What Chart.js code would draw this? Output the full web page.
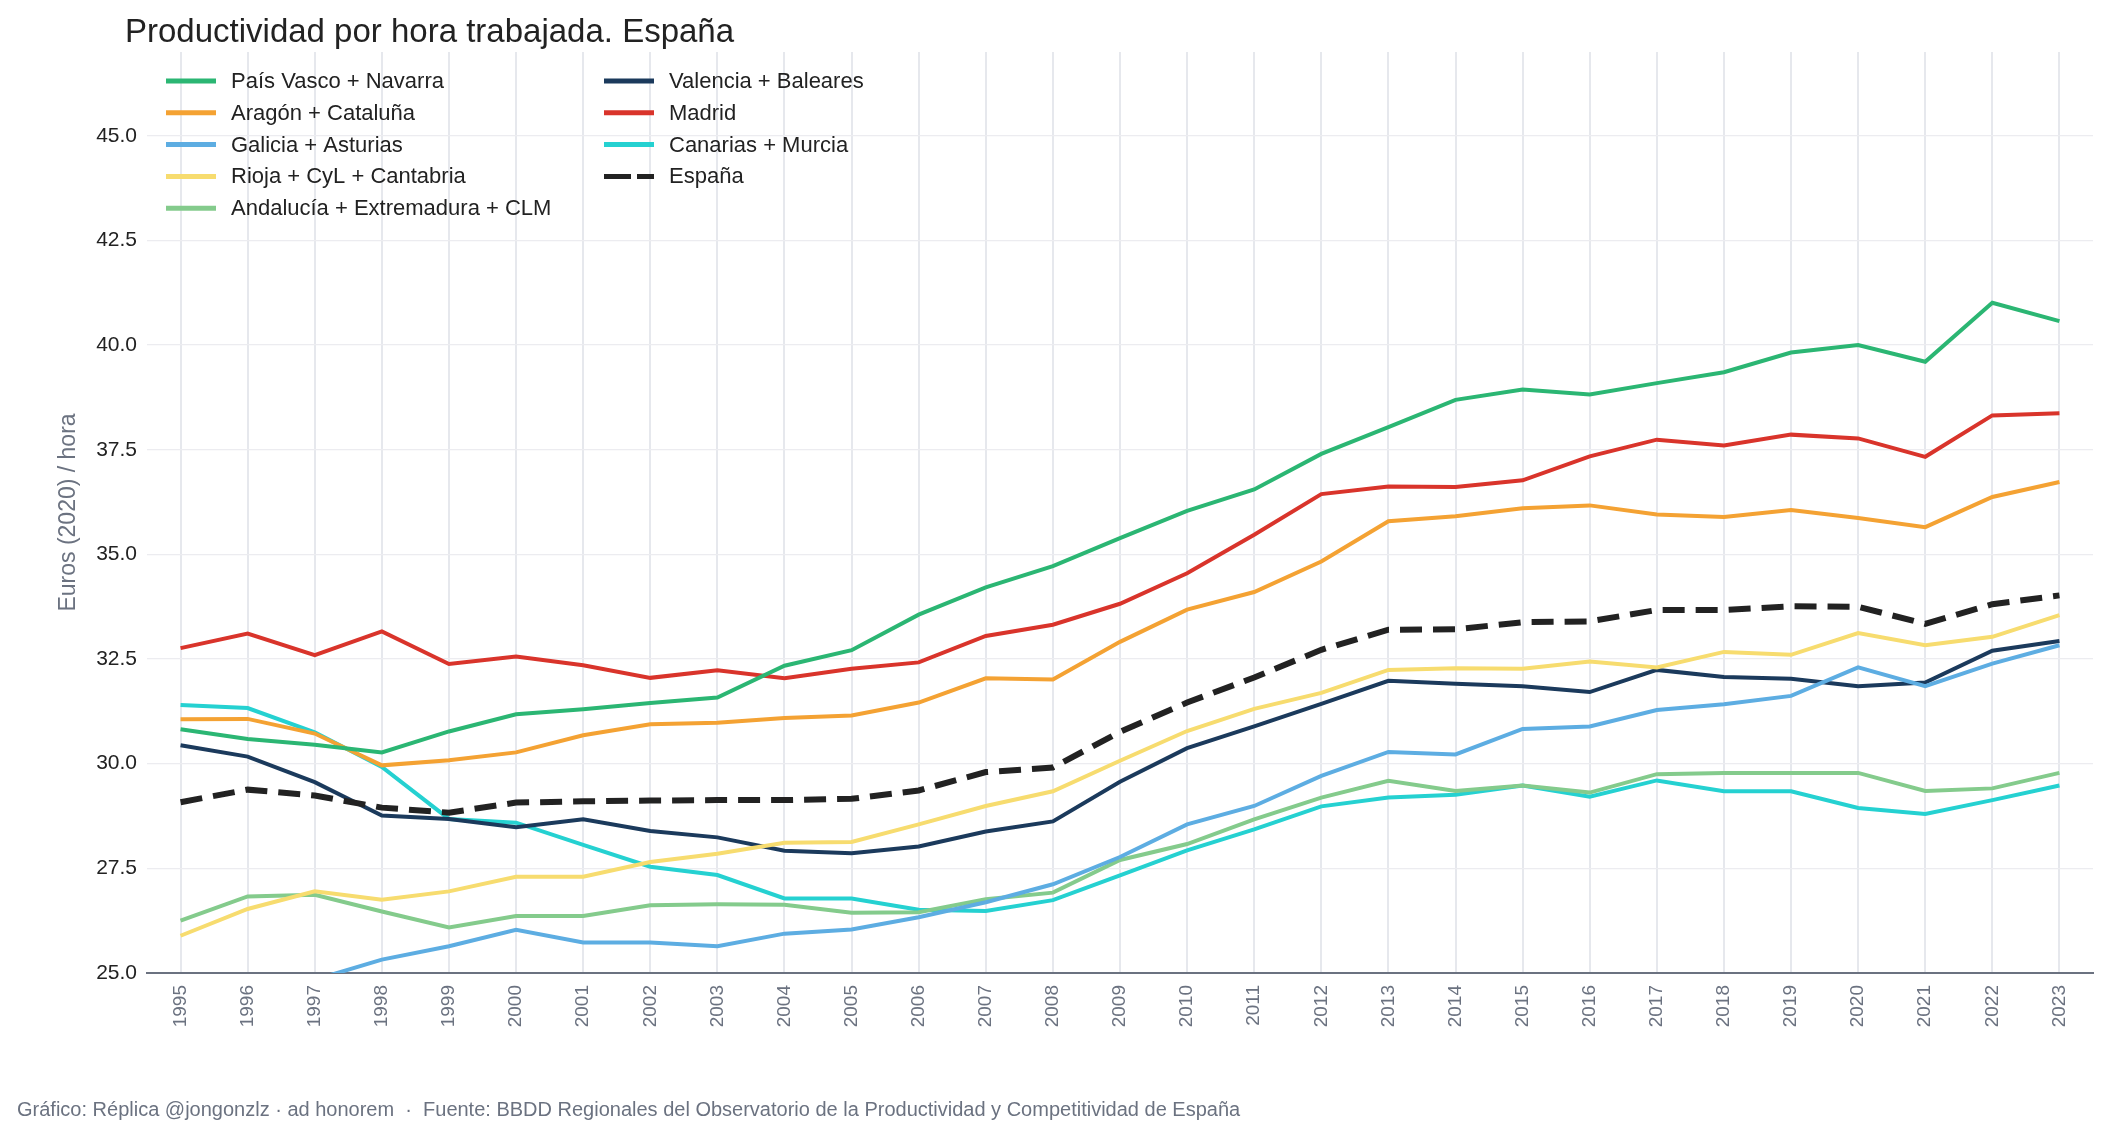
<!DOCTYPE html>
<html lang="es">
<head>
<meta charset="utf-8">
<title>Productividad por hora trabajada. España</title>
<script src="https://cdn.jsdelivr.net/npm/chart.js@4.4.1/dist/chart.umd.min.js"></script>
<style>
  html, body { margin: 0; padding: 0; background: #fff; }
  #wrap { position: relative; width: 2109px; height: 1140px; }
  #titulo {
    position: absolute; left: 125px; top: 14px; margin: 0;
    font: 400 33px/33px 'Liberation Sans', Arial, sans-serif; color: #222;
  }
  canvas { display: block; }
</style>
</head>
<body>
<div id="wrap">
  <canvas id="chart" width="2109" height="1140"></canvas>
  <h1 id="titulo">Productividad por hora trabajada. España</h1>
</div>
<script>
// ── Datos (euros de 2020 por hora trabajada) ─────────────────────
const years = ['1995', '1996', '1997', '1998', '1999', '2000', '2001', '2002', '2003', '2004',
    '2005', '2006', '2007', '2008', '2009', '2010', '2011', '2012', '2013', '2014',
    '2015', '2016', '2017', '2018', '2019', '2020', '2021', '2022', '2023'];

const paisVasco = [30.82, 30.59, 30.45, 30.27, 30.77, 31.18, 31.30, 31.45, 31.58, 32.34,
    32.71, 33.56, 34.21, 34.72, 35.39, 36.04, 36.55, 37.40, 38.04, 38.69,
    38.94, 38.82, 39.09, 39.35, 39.82, 40.00, 39.60, 41.01, 40.57];
const aragon = [31.06, 31.07, 30.72, 29.96, 30.08, 30.27, 30.68, 30.94, 30.98, 31.09,
    31.15, 31.46, 32.04, 32.01, 32.91, 33.68, 34.10, 34.83, 35.79, 35.91,
    36.10, 36.17, 35.95, 35.89, 36.06, 35.87, 35.65, 36.37, 36.73];
const galicia = [24.30, 24.60, 24.84, 25.32, 25.64, 26.03, 25.73, 25.73, 25.64, 25.94,
    26.04, 26.33, 26.69, 27.12, 27.77, 28.55, 28.99, 29.71, 30.28, 30.22,
    30.83, 30.89, 31.28, 31.42, 31.62, 32.30, 31.85, 32.39, 32.83];
const rioja = [25.89, 26.53, 26.95, 26.75, 26.95, 27.30, 27.30, 27.65, 27.85, 28.11,
    28.13, 28.55, 28.99, 29.34, 30.07, 30.78, 31.31, 31.69, 32.24, 32.28,
    32.27, 32.44, 32.30, 32.67, 32.60, 33.12, 32.83, 33.03, 33.55];
const andalucia = [26.25, 26.83, 26.87, 26.47, 26.09, 26.36, 26.36, 26.62, 26.64, 26.63,
    26.44, 26.45, 26.76, 26.92, 27.70, 28.08, 28.67, 29.19, 29.59, 29.35,
    29.48, 29.31, 29.75, 29.78, 29.78, 29.78, 29.35, 29.41, 29.78];
const valencia = [30.44, 30.17, 29.56, 28.76, 28.68, 28.48, 28.67, 28.39, 28.24, 27.92,
    27.86, 28.02, 28.38, 28.62, 29.57, 30.37, 30.89, 31.43, 31.98, 31.91,
    31.85, 31.71, 32.24, 32.07, 32.03, 31.85, 31.94, 32.70, 32.93];
const madrid = [32.76, 33.11, 32.59, 33.16, 32.38, 32.56, 32.35, 32.05, 32.23, 32.04,
    32.27, 32.42, 33.05, 33.32, 33.82, 34.55, 35.47, 36.44, 36.62, 36.61,
    36.77, 37.34, 37.74, 37.60, 37.86, 37.77, 37.33, 38.32, 38.37];
const canarias = [31.40, 31.33, 30.75, 29.92, 28.68, 28.59, 28.06, 27.54, 27.34, 26.78,
    26.78, 26.51, 26.48, 26.74, 27.33, 27.93, 28.43, 28.98, 29.19, 29.26,
    29.48, 29.21, 29.60, 29.34, 29.34, 28.94, 28.80, 29.13, 29.48];
const espana = [29.08, 29.38, 29.24, 28.95, 28.83, 29.07, 29.10, 29.12, 29.13, 29.13,
    29.16, 29.36, 29.80, 29.91, 30.76, 31.46, 32.06, 32.72, 33.20, 33.21,
    33.38, 33.40, 33.67, 33.67, 33.76, 33.75, 33.34, 33.81, 34.02];

const yTicks = [25, 27.5, 30, 32.5, 35, 37.5, 40, 42.5, 45];

const FUENTE = 'Gráfico: Réplica @jongonzlz · ad honorem  ·  Fuente: BBDD Regionales del Observatorio de la Productividad y Competitividad de España';

// ── Estilo ───────────────────────────────────────────────────────
const FONT = "'Liberation Sans', Arial, sans-serif";
Chart.defaults.font.family = FONT;

function serie(label, data, color, extra) {
    return Object.assign({
        label, data,
        borderColor: color,
        backgroundColor: color,
        borderWidth: 4,
        pointRadius: 0,
        pointHoverRadius: 0,
        tension: 0,
        fill: false,
    }, extra || {});
}

// Leyenda en dos columnas dentro del área del gráfico
const leyendaDosColumnas = {
    id: 'leyendaDosColumnas',
    afterDraw(chart) {
        const ctx = chart.ctx;
        const columnas = [{ x: 166, filas: 5 }, { x: 604, filas: 4 }];
        const y0 = 81, paso = 31.8, largo = 50, hueco = 15;
        let i = 0;
        ctx.save();
        ctx.font = '22px ' + FONT;
        ctx.textBaseline = 'middle';
        ctx.textAlign = 'left';
        ctx.fillStyle = '#222222';
        for (const col of columnas) {
            for (let f = 0; f < col.filas; f++, i++) {
                const ds = chart.data.datasets[i];
                if (!ds) break;
                const y = y0 + f * paso;
                ctx.beginPath();
                ctx.strokeStyle = ds.borderColor;
                ctx.lineWidth = 5;
                ctx.setLineDash(ds.borderDash ? [27, 6] : []);
                ctx.moveTo(col.x, y);
                ctx.lineTo(col.x + largo, y);
                ctx.stroke();
                ctx.setLineDash([]);
                ctx.fillText(ds.label, col.x + largo + hueco, y + 1);
            }
        }
        ctx.restore();
    }
};

new Chart(document.getElementById('chart'), {
    type: 'line',
    data: {
        labels: years,
        datasets: [
            serie('País Vasco + Navarra', paisVasco, '#2bb673'),
            serie('Aragón + Cataluña', aragon, '#f4a233'),
            serie('Galicia + Asturias', galicia, '#5dade2'),
            serie('Rioja + CyL + Cantabria', rioja, '#f7dc6f'),
            serie('Andalucía + Extremadura + CLM', andalucia, '#84cb8c'),
            serie('Valencia + Baleares', valencia, '#1b3a5c'),
            serie('Madrid', madrid, '#d9342b'),
            serie('Canarias + Murcia', canarias, '#25d1d1'),
            serie('España', espana, '#222222', { borderWidth: 6, borderDash: [22, 11], order: -1 }),
        ],
    },
    options: {
        responsive: false,
        devicePixelRatio: 1,
        animation: false,
        layout: { padding: { top: 52, left: 17, right: 16, bottom: 0 } },
        plugins: {
            legend: { display: false },
            tooltip: { enabled: false },
            title: { display: false },
            subtitle: {
                display: true,
                position: 'bottom',
                align: 'start',
                text: FUENTE,
                color: '#6b7280',
                font: { size: 20, weight: 'normal' },
                padding: { top: 25, bottom: 18 },
            },
        },
        scales: {
            x: {
                offset: true,
                grid: { color: '#e6e8ed', lineWidth: 2, drawTicks: false, offset: false },
                border: { display: true, color: '#6b7280', width: 2 },
                ticks: {
                    color: '#6b7280',
                    font: { size: 19 },
                    minRotation: 90,
                    maxRotation: 90,
                    autoSkip: false,
                    padding: 12,
                },
                afterFit: scale => { scale.height = 100; },
            },
            y: {
                min: 25,
                max: 47,
                grid: { color: '#ececf0', lineWidth: 1.3, drawTicks: false },
                border: { display: false },
                ticks: {
                    color: '#222222',
                    font: { size: 21 },
                    padding: 10,
                    callback: v => Number(v).toFixed(1),
                },
                afterBuildTicks: scale => { scale.ticks = yTicks.map(v => ({ value: v })); },
                title: {
                    display: true,
                    text: 'Euros (2020) / hora',
                    color: '#6b7280',
                    font: { size: 23 },
                    padding: { top: 38, bottom: 0 },
                },
                afterFit: scale => { scale.width = 130; },
            },
        },
    },
    plugins: [leyendaDosColumnas],
});
</script>
</body>
</html>
